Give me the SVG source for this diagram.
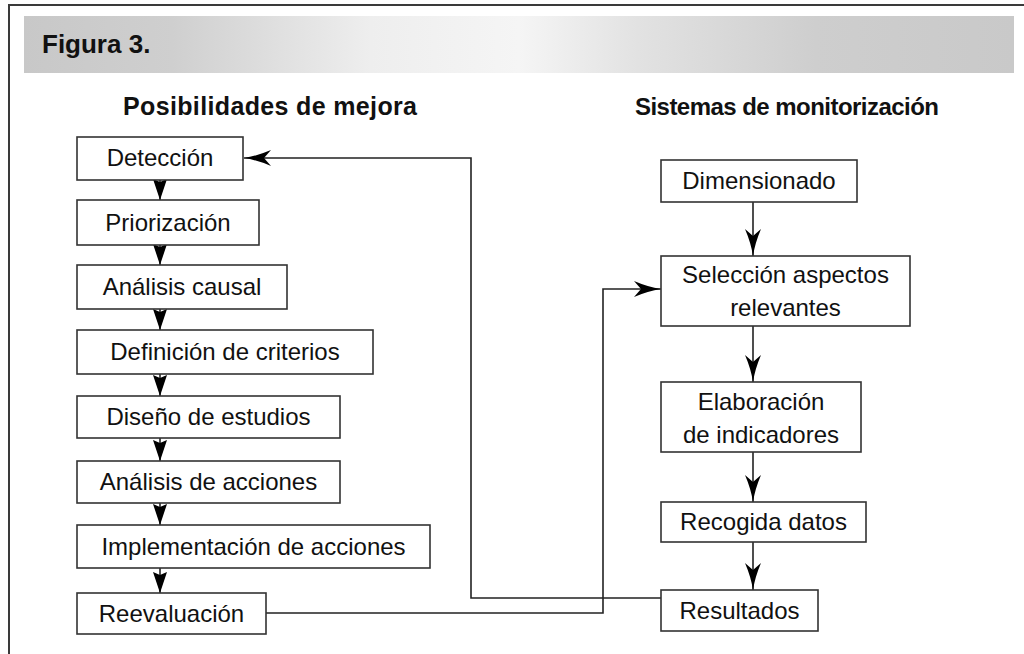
<svg xmlns="http://www.w3.org/2000/svg" width="1024" height="654" viewBox="0 0 1024 654">
  <defs>
    <linearGradient id="band" x1="0" y1="0" x2="1" y2="0">
      <stop offset="0" stop-color="#c8c8c8"/>
      <stop offset="0.15" stop-color="#cfcfcf"/>
      <stop offset="0.35" stop-color="#eeeeee"/>
      <stop offset="0.5" stop-color="#f5f5f5"/>
      <stop offset="0.62" stop-color="#e2e2e2"/>
      <stop offset="0.8" stop-color="#cecece"/>
      <stop offset="1" stop-color="#c9c9c9"/>
    </linearGradient>
    <marker id="arrS" markerUnits="userSpaceOnUse" viewBox="0 0 21 14" refX="21" refY="7" markerWidth="21" markerHeight="14" orient="auto">
      <path d="M0,0 L21,7 L0,14 L3,7 Z" fill="#000"/>
    </marker>
    <marker id="arrL" markerUnits="userSpaceOnUse" viewBox="0 0 27 16" refX="27" refY="8" markerWidth="27" markerHeight="16" orient="auto">
      <path d="M0,0 Q14,6 27,8 Q14,10 0,16 L7,8 Z" fill="#000"/>
    </marker>
  </defs>
  <style>
    .frame { stroke: #3a3a3a; stroke-width: 2; fill: none; }
    .box { fill: #fff; stroke: #333; stroke-width: 1.6; }
    .lbl { font-family: "Liberation Sans", Arial, sans-serif; font-size: 24px; fill: #111; text-anchor: middle; }
    .hd { font-family: "Liberation Sans", Arial, sans-serif; font-weight: bold; fill: #111; }
    .ln { stroke: #222; stroke-width: 1.6; fill: none; }
  </style>

  <rect x="0" y="0" width="1024" height="654" fill="#fff"/>
  <path class="frame" d="M9,654 V5 H1024"/>

  <g id="title">
    <rect x="24" y="16" width="990" height="57" fill="url(#band)"/>
    <text class="hd" x="42" y="53" style="font-size:26px">Figura 3.</text>
  </g>

  <g id="headings">
    <text class="hd" x="123" y="115" style="font-size:25px" textLength="294" lengthAdjust="spacing">Posibilidades de mejora</text>
    <text class="hd" x="635" y="115" style="font-size:24px" textLength="304" lengthAdjust="spacing">Sistemas de monitorización</text>
  </g>

  <g id="connectors">
    <line class="ln" x1="160" y1="180" x2="160" y2="200" marker-end="url(#arrS)"/>
    <line class="ln" x1="160" y1="245" x2="160" y2="265" marker-end="url(#arrS)"/>
    <line class="ln" x1="160" y1="309" x2="160" y2="330" marker-end="url(#arrS)"/>
    <line class="ln" x1="160" y1="374" x2="160" y2="396" marker-end="url(#arrS)"/>
    <line class="ln" x1="160" y1="438" x2="160" y2="461" marker-end="url(#arrS)"/>
    <line class="ln" x1="160" y1="503" x2="160" y2="525" marker-end="url(#arrS)"/>
    <line class="ln" x1="160" y1="568" x2="160" y2="593" marker-end="url(#arrS)"/>

    <line class="ln" x1="753" y1="202" x2="753" y2="256" marker-end="url(#arrL)"/>
    <line class="ln" x1="753" y1="326" x2="753" y2="382" marker-end="url(#arrL)"/>
    <line class="ln" x1="753" y1="452" x2="753" y2="502" marker-end="url(#arrL)"/>
    <line class="ln" x1="753" y1="542" x2="753" y2="590" marker-end="url(#arrL)"/>

    <path class="ln" d="M661,598 H471 V158 H244" marker-end="url(#arrL)"/>
    <path class="ln" d="M266,613 H603 V289 H661" marker-end="url(#arrL)"/>
  </g>

  <g id="n-deteccion">
    <rect class="box" x="77" y="137" width="166" height="43"/>
    <text class="lbl" x="160" y="166">Detección</text>
  </g>
  <g id="n-priorizacion">
    <rect class="box" x="77" y="200" width="182" height="45"/>
    <text class="lbl" x="168" y="231">Priorización</text>
  </g>
  <g id="n-analisis-causal">
    <rect class="box" x="77" y="265" width="210" height="44"/>
    <text class="lbl" x="182" y="295">Análisis causal</text>
  </g>
  <g id="n-definicion">
    <rect class="box" x="77" y="330" width="296" height="44"/>
    <text class="lbl" x="225" y="360">Definición de criterios</text>
  </g>
  <g id="n-diseno">
    <rect class="box" x="77" y="396" width="263" height="42"/>
    <text class="lbl" x="208.5" y="425">Diseño de estudios</text>
  </g>
  <g id="n-analisis-acciones">
    <rect class="box" x="77" y="461" width="263" height="42"/>
    <text class="lbl" x="208.5" y="490">Análisis de acciones</text>
  </g>
  <g id="n-implementacion">
    <rect class="box" x="77" y="525" width="353" height="43"/>
    <text class="lbl" x="253.5" y="555">Implementación de acciones</text>
  </g>
  <g id="n-reevaluacion">
    <rect class="box" x="77" y="593" width="189" height="41"/>
    <text class="lbl" x="171.5" y="622">Reevaluación</text>
  </g>

  <g id="n-dimensionado">
    <rect class="box" x="661" y="160" width="196" height="42"/>
    <text class="lbl" x="759" y="189">Dimensionado</text>
  </g>
  <g id="n-seleccion">
    <rect class="box" x="661" y="256" width="249" height="70"/>
    <text class="lbl" x="785.5" y="283">Selección aspectos</text>
    <text class="lbl" x="785.5" y="316">relevantes</text>
  </g>
  <g id="n-elaboracion">
    <rect class="box" x="661" y="382" width="200" height="70"/>
    <text class="lbl" x="761" y="410">Elaboración</text>
    <text class="lbl" x="761" y="443">de indicadores</text>
  </g>
  <g id="n-recogida">
    <rect class="box" x="661" y="502" width="205" height="40"/>
    <text class="lbl" x="763.5" y="530">Recogida datos</text>
  </g>
  <g id="n-resultados">
    <rect class="box" x="661" y="590" width="157" height="41"/>
    <text class="lbl" x="739.5" y="619">Resultados</text>
  </g>
</svg>
